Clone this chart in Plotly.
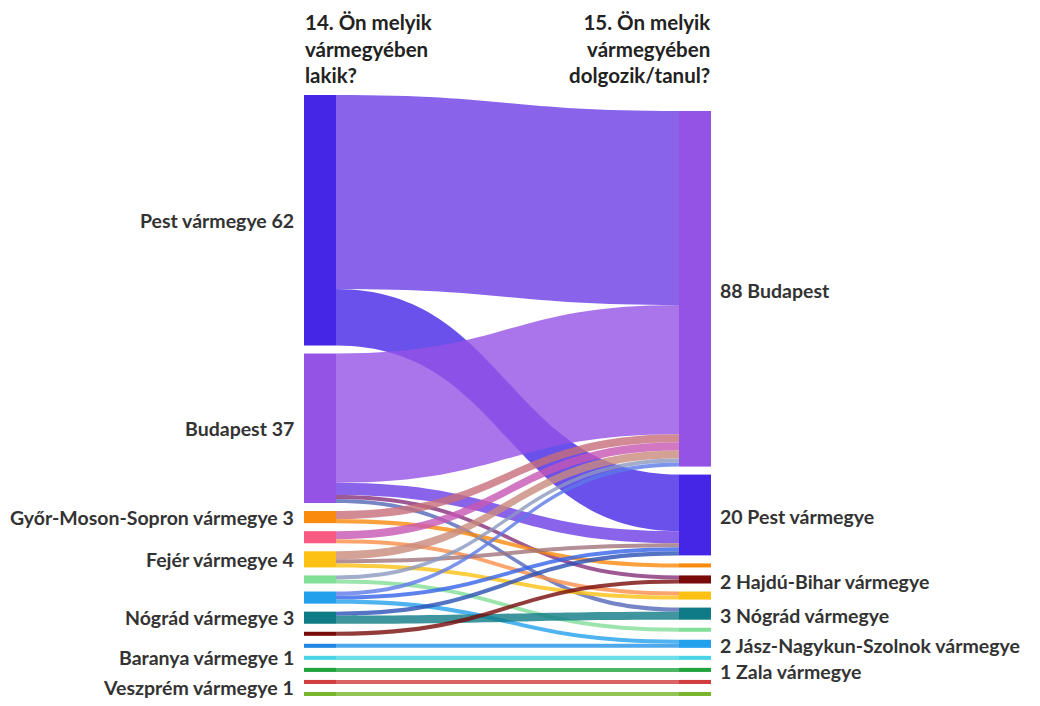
import plotly.graph_objects as go

# ---------------- data ----------------
# Left column: "14. Ön melyik vármegyében lakik?"
left_names = [
    "Pest vármegye", "Budapest", "Győr-Moson-Sopron vármegye", "Komárom-Esztergom vármegye",
    "Fejér vármegye", "Heves vármegye", "Jász-Nagykun-Szolnok vármegye", "Nógrád vármegye",
    "Hajdú-Bihar vármegye", "Bács-Kiskun vármegye", "Baranya vármegye", "Zala vármegye",
    "Somogy vármegye", "Veszprém vármegye",
]
left_label_shown = [True, True, True, False, True, False, False, True,
                    False, False, True, False, False, True]
left_colors = [
    "#4526e6", "#9553e6", "#f98a0d", "#f95a82", "#fcc112", "#82df98", "#23a0ec",
    "#0f7b86", "#780a0a", "#1e86e3", "#48d3e6", "#1fa23c", "#d23c3c", "#78b52c",
]

# Right column: "15. Ön melyik vármegyében dolgozik/tanul?"
right_names = [
    "Budapest", "Pest vármegye", "Győr-Moson-Sopron vármegye", "Hajdú-Bihar vármegye",
    "Fejér vármegye", "Nógrád vármegye", "Heves vármegye", "Jász-Nagykun-Szolnok vármegye",
    "Baranya vármegye", "Zala vármegye", "Somogy vármegye", "Veszprém vármegye",
]
right_label_shown = [True, True, False, True, False, True, False, True,
                     False, True, False, False]
right_colors = [
    "#9553e6", "#4526e6", "#f98a0d", "#780a0a", "#fcc112", "#0f7b86",
    "#82df98", "#23a0ec", "#48d3e6", "#1fa23c", "#d23c3c", "#78b52c",
]

# Flows (index into left_names -> index into right_names)
link_source = [0, 0, 1, 1, 1, 1, 2, 2, 3, 3, 4, 4, 4, 5, 5, 6, 6, 6, 7, 7, 8, 9, 10, 11, 12, 13]
link_target = [0, 1, 0, 1, 3, 5, 0, 2, 0, 4, 0, 1, 4, 0, 6, 0, 1, 7, 1, 5, 3, 7, 8, 9, 10, 11]
link_value = [48, 14, 32, 3, 1, 1, 2, 1, 2, 1, 2, 1, 1, 1, 1, 1, 1, 1, 1, 2, 1, 1, 1, 1, 1, 1]

header_left = ["14. Ön melyik", "vármegyében", "lakik?"]
header_right = ["15. Ön melyik", "vármegyében", "dolgozik/tanul?"]

# ---------------- layout constants ----------------
FIG_W, FIG_H = 1024, 690
DOM_X0, DOM_X1 = 296, 703      # px, sankey domain (left/right)
DOM_Y0, DOM_Y1 = 87, 688       # px, sankey domain (top/bottom)
PAD = 8
THICK = 32
FONT = "Lato"
LABEL_SIZE = 19.5
HEAD_SIZE = 20.5
TXT = "#333333"

nL, nR = len(left_names), len(right_names)
left_vals = [sum(v for s, v in zip(link_source, link_value) if s == i) for i in range(nL)]
right_vals = [sum(v for t, v in zip(link_target, link_value) if t == i) for i in range(nR)]

dom_w = DOM_X1 - DOM_X0
dom_h = DOM_Y1 - DOM_Y0
ky = min((dom_h - (len(c) - 1) * PAD) / sum(c) for c in (left_vals, right_vals))


def column_centers(vals):
    span = sum(vals) * ky + (len(vals) - 1) * PAD
    y = dom_h - span  # bottom aligned
    centers = []
    for v in vals:
        h = v * ky
        centers.append(y + h / 2)
        y += h + PAD
    return centers


left_c = column_centers(left_vals)
right_c = column_centers(right_vals)

node_x = [THICK / 2 / dom_w] * nL + [1 - THICK / 2 / dom_w] * nR
node_y = [c / dom_h for c in left_c + right_c]


def hex_rgb(h):
    h = h.lstrip("#")
    return tuple(int(h[i:i + 2], 16) for i in (0, 2, 4))


def blend(c1, c2, a=0.8):
    r1, r2 = hex_rgb(c1), hex_rgb(c2)
    m = [(x + y) / 2 for x, y in zip(r1, r2)]
    return "rgba(%d,%d,%d,%.2f)" % (m[0], m[1], m[2], a)


link_colors = [blend(left_colors[s], right_colors[t]) for s, t in zip(link_source, link_target)]

fig = go.Figure(go.Sankey(
    arrangement="fixed",
    domain=dict(x=[DOM_X0 / FIG_W, DOM_X1 / FIG_W], y=[1 - DOM_Y1 / FIG_H, 1 - DOM_Y0 / FIG_H]),
    node=dict(
        label=[""] * (nL + nR),
        customdata=[f"{n} {v}" for n, v in zip(left_names, left_vals)]
                   + [f"{v} {n}" for n, v in zip(right_names, right_vals)],
        hovertemplate="%{customdata}<extra></extra>",
        color=left_colors + right_colors,
        pad=PAD,
        thickness=THICK,
        line=dict(width=0),
        x=node_x,
        y=node_y,
    ),
    link=dict(
        source=link_source,
        target=[t + nL for t in link_target],
        value=link_value,
        color=link_colors,
    ),
))


def label_y(center):
    # keep the whole label inside the figure
    px = min(DOM_Y0 + center, FIG_H - 11)
    return 1 - px / FIG_H


annotations = []
for name, v, c, show in zip(left_names, left_vals, left_c, left_label_shown):
    if show:
        annotations.append(dict(
            text=f"{name} {v}", x=(DOM_X0 - 8) / FIG_W, y=label_y(c),
            xanchor="right", yanchor="middle", showarrow=False,
        ))
for name, v, c, show in zip(right_names, right_vals, right_c, right_label_shown):
    if show:
        annotations.append(dict(
            text=f"{v} {name}", x=(DOM_X1 + 7) / FIG_W, y=label_y(c + 2),
            xanchor="left", yanchor="middle", showarrow=False,
        ))
annotations.append(dict(
    text="<br>".join(header_left), x=(DOM_X0 - 1) / FIG_W, y=1,
    xanchor="left", yanchor="top", align="left", showarrow=False,
    font=dict(size=HEAD_SIZE, color="#222222", family=FONT, weight=700),
))
annotations.append(dict(
    text="<br>".join(header_right), x=(DOM_X1 + 1) / FIG_W, y=1,
    xanchor="right", yanchor="top", align="right", showarrow=False,
    font=dict(size=HEAD_SIZE, color="#222222", family=FONT, weight=700),
))

fig.update_layout(
    width=FIG_W, height=FIG_H,
    margin=dict(l=0, r=0, t=0, b=0),
    paper_bgcolor="white",
    font=dict(family=FONT, size=LABEL_SIZE, color=TXT, weight=700),
    annotations=annotations,
)

fig.write_html("out.html")
